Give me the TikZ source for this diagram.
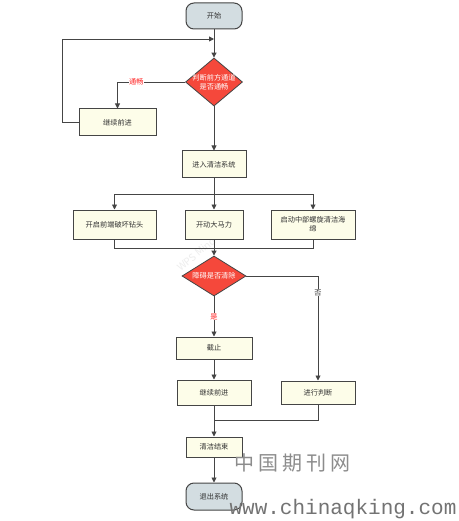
\documentclass[tikz,border=0pt]{standalone}
\usepackage{fontspec}
\setmainfont{Noto Sans CJK SC}
\newfontfamily\monofnt{Liberation Mono}
\usetikzlibrary{shapes.geometric,arrows.meta}
\definecolor{linegray}{HTML}{454545}
\definecolor{termfill}{HTML}{D3DDE1}
\definecolor{boxfill}{HTML}{FDFDE9}
\definecolor{diared}{HTML}{F5483B}
\definecolor{txtgray}{HTML}{333333}
\definecolor{lblred}{HTML}{FF2020}
\begin{document}
\begin{tikzpicture}[x=1pt,y=-1pt,
  basefont/.style={font=\fontsize{7.2}{9}\selectfont},
  term/.style={basefont, draw=linegray, fill=termfill, line width=1pt, rounded corners=8pt, minimum width=56pt, minimum height=26pt, inner sep=0pt, text=txtgray},
  box/.style={basefont, draw=linegray, fill=boxfill, line width=1pt, inner sep=0pt, text=txtgray, align=center},
  dia/.style={diamond, draw=linegray, fill=diared, line width=0.8pt, inner sep=0pt},
  diatext/.style={basefont, text=white, align=center, inner sep=0pt},
  conn/.style={draw=linegray, line width=0.9pt},
  arr/.style={conn, -{Triangle[length=5pt,width=5pt]}},
  redlbl/.style={basefont, text=lblred, fill=white, inner sep=0.5pt},
  graylbl/.style={basefont, text=txtgray, fill=white, inner sep=0.5pt}]
\useasboundingbox (0,0) rectangle (458,521);
\fill[white] (0,0) rectangle (458,521);

% faint background watermark
\node[text=black!7, rotate=40, font=\fontsize{10}{10}\selectfont, inner sep=0pt] (wm1) at (196,254) {WPS Mind};

% nodes
\node[term] (start) at (214,16) {开始};
\node[dia, minimum width=57pt, minimum height=48pt] (d1) at (214,82) {};
\node[diatext] (d1t) at (d1.center) {判断前方通道\\是否通畅};
\node[box, minimum width=77pt, minimum height=27pt] (go1) at (117.5,122.5) {继续前进};
\node[box, minimum width=64pt, minimum height=27pt] (enter) at (214,164.5) {进入清洁系统};
\node[box, minimum width=83pt, minimum height=29pt] (ba) at (114.5,224.5) {开启前端破坏钻头};
\node[box, minimum width=58pt, minimum height=29pt] (bb) at (214,224.5) {开动大马力};
\node[box, minimum width=84pt, minimum height=29pt] (bc) at (313,224.5) {启动中部螺旋清洁海\\绵};
\node[dia, minimum width=64pt, minimum height=40pt] (d2) at (214,276) {};
\node[diatext] (d2t) at (d2.center) {障碍是否清除};
\node[box, minimum width=76pt, minimum height=22pt] (stop) at (214,348) {截止};
\node[box, minimum width=74pt, minimum height=25pt] (go2) at (214,392.5) {继续前进};
\node[box, minimum width=74pt, minimum height=23pt] (judge) at (318,392.5) {进行判断};
\node[box, minimum width=56pt, minimum height=20pt] (endc) at (214,447) {清洁结束};
\node[term, minimum height=27pt] (exit) at (214,496.5) {退出系统};

% helper coordinates
\coordinate (loopL) at (62,39);
\coordinate (loopR) at (214,39);
\coordinate (sp) at (214,194);
\coordinate (mg) at (214,248);
\coordinate (jn) at (214,420);

% connectors
\draw[arr] (start) -- (d1);
\draw[arr] (go1.west) -- (loopL |- go1.west) -- (loopL) -- (loopR);
\draw[arr] (d1.west) -| node[redlbl, pos=0.36] {通畅} (go1.north);
\draw[arr] (d1) -- (enter);
\draw[conn] (enter.south) -- (sp);
\draw[arr] (sp) -| (ba.north);
\draw[arr] (sp) -| (bc.north);
\draw[arr] (sp) -- (bb.north);
\draw[conn] (ba.south) |- (mg);
\draw[conn] (bc.south) |- (mg);
\draw[conn] (bb.south) -- (mg);
\draw[arr] (mg) -- (d2.north);
\draw[arr] (d2.east) -| node[graylbl, pos=0.58] {否} (judge.north);
\draw[arr] (d2) -- node[redlbl, pos=0.5] {是} (stop);
\draw[arr] (stop) -- (go2);
\draw[conn] (judge.south) |- (jn);
\draw[arr] (go2) -- (endc);
\draw[arr] (endc) -- (exit);

% foreground watermarks
\node[text=black!45, font=\fontsize{20}{20}\selectfont, inner sep=0pt] (wm2) at (292,463) {中\hspace{4pt}国\hspace{4pt}期\hspace{4pt}刊\hspace{4pt}网};
\node[text=black!55, font=\monofnt\fontsize{21}{21}\selectfont, inner sep=0pt] (wm3) at (343,509) {www.chinaqking.com};
\end{tikzpicture}
\end{document}
